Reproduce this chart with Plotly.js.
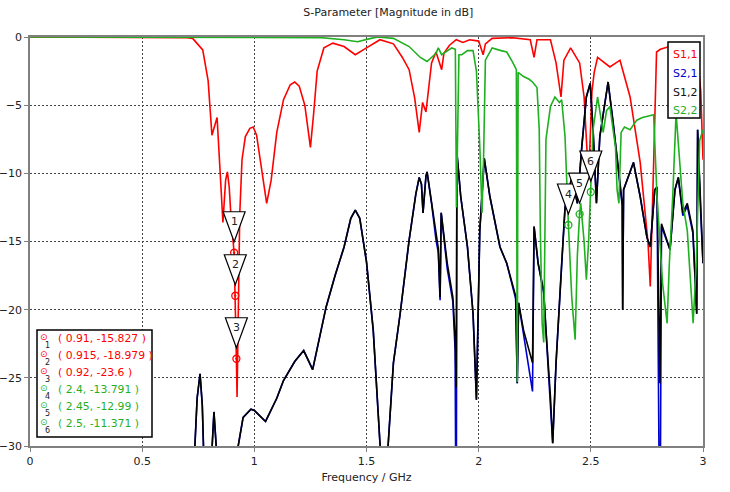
<!DOCTYPE html>
<html>
<head>
<meta charset="utf-8">
<script src="https://cdn.plot.ly/plotly-3.0.1.min.js"></script>
<style>
body { margin: 0; background: #fff; }
#graph { width: 730px; height: 492px; }
</style>
</head>
<body>
<div id="graph"></div>
<script>
/*
* values (GHz / dB)
*/
var freqS11 = [0, 0.5, 0.7, 0.725, 0.77, 0.794, 0.811, 0.834, 0.86, 0.872, 0.88, 0.888, 0.897, 0.91, 0.915, 0.92, 0.923, 0.928, 0.935, 0.945, 0.96, 0.98, 0.995, 1.01, 1.03, 1.055, 1.075, 1.1, 1.13, 1.16, 1.18, 1.2, 1.225, 1.25, 1.265, 1.28, 1.31, 1.35, 1.4, 1.45, 1.5, 1.56, 1.62, 1.66, 1.69, 1.715, 1.735, 1.75, 1.765, 1.79, 1.81, 1.835, 1.845, 1.87, 1.9, 1.93, 1.96, 2.0, 2.02, 2.03, 2.06, 2.15, 2.23, 2.247, 2.26, 2.32, 2.345, 2.367, 2.38, 2.41, 2.45, 2.47, 2.49, 2.505, 2.515, 2.53, 2.585, 2.63, 2.675, 2.72, 2.755, 2.765, 2.78, 2.793, 2.81, 2.85, 2.9, 2.95, 2.975, 2.99, 3.0];
var magS11 = [0, 0, -0.05, -0.1, -0.95, -3.2, -7.2, -5.9, -13.6, -10.5, -9.9, -11, -13.5, -15.827, -18.979, -23.6, -26.4, -20, -13, -9, -7.3, -6.7, -6.6, -7.2, -9.5, -12.2, -10.5, -7, -4.6, -3.5, -3.3, -3.6, -5, -8.1, -5.5, -2.5, -0.8, -0.45, -0.7, -1.3, -0.8, -0.2, -0.5, -1.5, -2.4, -4.5, -7, -4.8, -5.5, -1.9, -1.1, -2.4, -1.2, -0.6, -0.2, -0.4, -0.2, -0.3, -1.3, -0.5, -0.1, -0.05, -0.2, -1.5, -0.2, -0.2, -1.9, -4.4, -1.7, -0.8, -1.9, -4.4, -10.5, -4, -2.6, -1.5, -2.2, -1.7, -4.4, -9.2, -15.1, -18.3, -9.2, -1.1, -0.9, -0.7, -0.8, -1, -1.3, -4, -9];

var freqS12 = [0, 0.72, 0.735, 0.745, 0.758, 0.768, 0.775, 0.8, 0.812, 0.82, 0.83, 0.84, 0.9, 0.928, 0.95, 0.985, 1.0, 1.05, 1.1, 1.13, 1.18, 1.22, 1.26, 1.29, 1.32, 1.36, 1.4, 1.43, 1.45, 1.47, 1.5, 1.53, 1.56, 1.58, 1.597, 1.62, 1.65, 1.69, 1.72, 1.735, 1.745, 1.752, 1.765, 1.77, 1.79, 1.81, 1.82, 1.828, 1.833, 1.86, 1.885, 1.895, 1.9, 1.903, 1.92, 1.95, 1.975, 1.99, 2.005, 2.025, 2.05, 2.095, 2.125, 2.165, 2.172, 2.178, 2.2, 2.24, 2.247, 2.265, 2.29, 2.3, 2.32, 2.33, 2.345, 2.37, 2.385, 2.415, 2.44, 2.46, 2.48, 2.497, 2.51, 2.525, 2.54, 2.577, 2.6, 2.62, 2.64, 2.642, 2.646, 2.69, 2.72, 2.75, 2.765, 2.785, 2.795, 2.808, 2.815, 2.853, 2.875, 2.89, 2.91, 2.93, 2.955, 2.972, 2.976, 2.99, 3.0];
var magS12 = [-45, -38, -30, -26.5, -24.7, -27, -31, -33, -30, -27.5, -30, -34, -36, -30, -27.9, -27.3, -27.4, -28.2, -26.5, -25.2, -23.8, -23, -24.4, -22, -19.8, -17.5, -15.4, -13.3, -12.7, -13.3, -16.5, -21.5, -29.8, -33, -29.8, -23.9, -20.3, -14.9, -11.5, -10.3, -10.8, -12.9, -10.2, -9.9, -12.2, -14.7, -15.5, -19.1, -12.9, -16.6, -19.1, -22, -25.7, -8.5, -11.7, -15.4, -20.3, -26.6, -14.2, -8.9, -11.7, -15.4, -16.6, -19, -25.4, -19.5, -21.5, -23.9, -13.9, -16.6, -18.6, -21.5, -26.4, -29.8, -23.9, -16.6, -12.5, -10.3, -12.2, -8, -4.4, -3.4, -6.8, -12.2, -7.3, -3.3, -6.3, -9.2, -12.2, -20, -11.2, -9.2, -11.7, -14.7, -15.4, -11.2, -11, -25.4, -13.7, -15.6, -11.2, -10.3, -12.9, -12.2, -14.2, -20.3, -6.8, -13, -16.6];
var magS21 = [-45, -38, -30, -26.5, -24.7, -27, -31, -33, -30, -27.5, -30, -34, -36, -30, -27.9, -27.3, -27.4, -28.2, -26.5, -25.2, -23.8, -23, -24.4, -22, -19.8, -17.5, -15.4, -13.3, -12.7, -13.3, -16.5, -21.5, -29.8, -33, -29.8, -23.9, -20.3, -14.9, -11.5, -10.3, -10.8, -12.9, -10.2, -9.9, -12.2, -14.9, -15.8, -19.3, -12.9, -17, -19.4, -23, -40, -8.5, -11.7, -15.4, -20.3, -26.6, -14.2, -8.9, -11.7, -15.4, -16.6, -19.2, -25.4, -19.5, -21.8, -26, -13.9, -16.6, -18.8, -21.5, -26.4, -29.8, -23.9, -16.6, -12.5, -10.3, -12.2, -8, -4.4, -3.4, -6.8, -12.2, -7.3, -3.3, -6.3, -9.4, -12.4, -20, -11.2, -9.2, -11.7, -14.7, -15.4, -11.2, -11, -40, -13.9, -15.6, -11.2, -10.3, -13.1, -12.4, -14.4, -20.3, -6.8, -13, -16.6];

var freqS22 = [0, 1.2, 1.3, 1.4, 1.46, 1.52, 1.55, 1.62, 1.69, 1.74, 1.77, 1.81, 1.82, 1.835, 1.86, 1.88, 1.896, 1.901, 1.912, 1.925, 1.95, 1.975, 1.99, 2.005, 2.015, 2.022, 2.03, 2.06, 2.1, 2.125, 2.15, 2.168, 2.172, 2.176, 2.2, 2.225, 2.24, 2.26, 2.27, 2.275, 2.283, 2.29, 2.3, 2.32, 2.34, 2.36, 2.37, 2.385, 2.4, 2.415, 2.43, 2.44, 2.45, 2.455, 2.47, 2.48, 2.49, 2.5, 2.51, 2.53, 2.55, 2.555, 2.57, 2.585, 2.61, 2.617, 2.625, 2.635, 2.65, 2.675, 2.705, 2.73, 2.78, 2.795, 2.82, 2.84, 2.85, 2.865, 2.88, 2.895, 2.91, 2.93, 2.956, 2.97, 2.985, 3.0];
var magS22 = [0, 0, -0.05, -0.2, -0.35, -0.1, 0, -0.1, -0.7, -1.5, -1.8, -1.2, -0.8, -1.3, -1, -0.8, -0.9, -12.5, -1.3, -1.3, -1, -1, -2.5, -8, -12.9, -8.8, -1.7, -0.8, -1, -1.1, -1.8, -2.4, -25.3, -2.6, -2.9, -3.1, -3.3, -3.7, -6.8, -14.2, -21, -22.4, -7.5, -5.1, -4.4, -4.8, -4.6, -7.3, -13.791, -19.1, -22.2, -16, -12.99, -12.2, -15, -17.8, -15, -11.371, -6.8, -4.4, -6.5, -7, -5.4, -5.1, -8.1, -11.2, -12.2, -7, -6.6, -6.8, -6.1, -5.9, -5.7, -11.7, -18.1, -21, -16.6, -11.7, -5.6, -9.3, -12.2, -14.2, -21, -16.6, -7.6, -6.8];

var traceNames = ["S1,1", "S2,1", "S1,2", "S2,2"];
var traceColors = ["#ff0000", "#0000cc", "#000000", "#1fb01f"];

var markerFreq = [0.91, 0.915, 0.92, 2.4, 2.45, 2.5];
var markerMag = [-15.827, -18.979, -23.6, -13.791, -12.99, -11.371];
var markerLabels = ["1", "2", "3", "4", "5", "6"];

/*
* helper to turn a pixel on the page into paper coords
*/
var plotL = 30, plotR = 703, plotT = 37, plotB = 446;
function paperX(px) { return (px - plotL) / (plotR - plotL); }
function paperY(py) { return (plotB - py) / (plotB - plotT); }

function drawGraph() {
    var data, layout, shapes, annotations, i, markerColors;

    data = [
        { x: freqS11, y: magS11, name: traceNames[0] },
        { x: freqS12, y: magS21, name: traceNames[1] },
        { x: freqS12, y: magS12, name: traceNames[2] },
        { x: freqS22, y: magS22, name: traceNames[3] }
    ];
    for (i = 0; i < data.length; i++) {
        data[i].type = "scatter";
        data[i].mode = "lines";
        data[i].line = { color: traceColors[i], width: 1.6 };
    }

    markerColors = [];
    for (i = 0; i < markerFreq.length; i++) {
        markerColors.push(i < 3 ? traceColors[0] : traceColors[3]);
    }
    data.push({
        x: markerFreq,
        y: markerMag,
        type: "scatter",
        mode: "markers",
        marker: { symbol: "circle-open-dot", size: 7, color: markerColors, line: { width: 1.3 } }
    });

    shapes = [];
    annotations = [];

    /*
    * marker flags: a white triangle above each marker with its number
    */
    for (i = 0; i < markerFreq.length; i++) {
        shapes.push({
            type: "path",
            xref: "x", yref: "y",
            xsizemode: "pixel", ysizemode: "pixel",
            xanchor: markerFreq[i], yanchor: markerMag[i],
            path: "M -11,41 L 11,41 L 0,11 Z",
            fillcolor: "#ffffff",
            line: { color: "#000000", width: 1.2 }
        });
        annotations.push({
            x: markerFreq[i], y: markerMag[i], xref: "x", yref: "y",
            text: markerLabels[i], showarrow: false, yshift: 31,
            font: { family: "DejaVu Sans", size: 11, color: "#222" }
        });
    }

    /*
    * legend box top right
    */
    shapes.push({
        type: "rect", xref: "paper", yref: "paper",
        x0: paperX(668), x1: paperX(700), y0: paperY(118), y1: paperY(42),
        fillcolor: "#ffffff", line: { color: "#000000", width: 1.5 }
    });
    for (i = 0; i < traceNames.length; i++) {
        annotations.push({
            x: paperX(671), y: paperY(55 + i * 18.5), xref: "paper", yref: "paper",
            xanchor: "left", yanchor: "middle", text: traceNames[i], showarrow: false,
            font: { family: "DejaVu Sans", size: 11, color: traceColors[i] === "#000000" ? "#111" : traceColors[i] }
        });
    }

    /*
    * marker table bottom left
    */
    shapes.push({
        type: "rect", xref: "paper", yref: "paper",
        x0: paperX(37), x1: paperX(152), y0: paperY(437), y1: paperY(330),
        fillcolor: "#ffffff", line: { color: "#000000", width: 1.5 }
    });
    for (i = 0; i < markerFreq.length; i++) {
        annotations.push({
            x: paperX(44), y: paperY(337 + i * 17), xref: "paper", yref: "paper",
            xanchor: "center", yanchor: "middle",
            text: "\u2299", showarrow: false,
            font: { family: "DejaVu Sans", size: 9, color: markerColors[i] }
        });
        annotations.push({
            x: paperX(47), y: paperY(345 + i * 17), xref: "paper", yref: "paper",
            xanchor: "center", yanchor: "middle",
            text: markerLabels[i], showarrow: false,
            font: { family: "DejaVu Sans", size: 8, color: "#222" }
        });
        annotations.push({
            x: paperX(56), y: paperY(338 + i * 17), xref: "paper", yref: "paper",
            xanchor: "left", yanchor: "middle",
            text: "( " + markerFreq[i] + ", " + markerMag[i] + " )", showarrow: false,
            font: { family: "DejaVu Sans", size: 10.8, color: markerColors[i] }
        });
    }

    layout = {
        width: 730,
        height: 492,
        margin: { l: plotL, r: 730 - plotR, t: plotT, b: 492 - plotB },
        paper_bgcolor: "#ffffff",
        plot_bgcolor: "#ffffff",
        showlegend: false,
        font: { family: "DejaVu Sans", size: 11, color: "#222" },
        title: {
            text: "S-Parameter [Magnitude in dB]",
            x: 0.532, xanchor: "center", y: 0.975, yanchor: "middle",
            font: { family: "DejaVu Sans", size: 11, color: "#222" }
        },
        xaxis: {
            title: { text: "Frequency / GHz", font: { size: 11 }, standoff: 6 },
            range: [0, 3],
            dtick: 0.5,
            showline: true, mirror: true, linecolor: "#808080", linewidth: 1.5,
            ticks: "outside", ticklen: 4, tickcolor: "#808080",
            showgrid: true, gridcolor: "#444", griddash: "2px,2px", gridwidth: 1,
            zeroline: false
        },
        yaxis: {
            range: [-30, 0],
            dtick: 5,
            showline: true, mirror: true, linecolor: "#808080", linewidth: 1.5,
            ticks: "outside", ticklen: 4, tickcolor: "#808080",
            showgrid: true, gridcolor: "#444", griddash: "2px,2px", gridwidth: 1,
            zeroline: false
        },
        shapes: shapes,
        annotations: annotations
    };

    Plotly.newPlot("graph", data, layout, { displayModeBar: false });
}

drawGraph();
</script>
</body>
</html>
